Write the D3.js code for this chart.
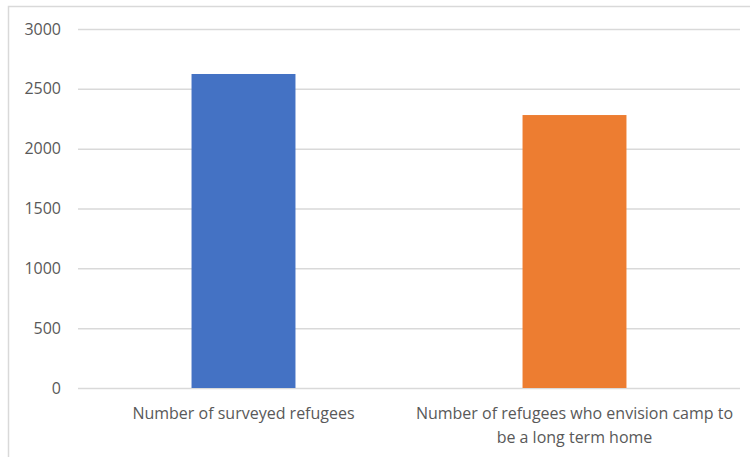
<!DOCTYPE html>
<html>
<head>
<meta charset="utf-8">
<script src="https://cdn.jsdelivr.net/npm/d3@7"></script>
<style>
  html, body { margin: 0; padding: 0; background: #fff; }
  svg { display: block; }
  text { font-family: "Open Sans", "Noto Sans", sans-serif; fill: #595959; }
</style>
</head>
<body>
<div id="chart"></div>
<script>
// Survey counts
const categories = [
  ["Number of surveyed refugees"],
  ["Number of refugees who envision camp to", "be a long term home"]
];
const values = [2624, 2281];
const barColors = ["#4472C4", "#ED7D31"];
const yTicks = [0, 500, 1000, 1500, 2000, 2500, 3000];

const W = 750, H = 457;
const margin = { left: 78, right: 10, top: 29, bottom: 69 };

const svg = d3.select("#chart").append("svg")
  .attr("width", W).attr("height", H);

// chart frame
svg.append("path")
  .attr("d", `M8.5,${H + 2} V6.5 H${W + 2}`)
  .attr("fill", "none")
  .attr("stroke", "#d9d9d9")
  .attr("stroke-width", 1.5);

const x = d3.scaleBand()
  .domain(d3.range(categories.length))
  .range([margin.left, W - margin.right])
  .padding(0);

const y = d3.scaleLinear()
  .domain([0, 3000])
  .range([H - margin.bottom, margin.top]);

// gridlines and tick labels
const yAxis = d3.axisLeft(y)
  .tickValues(yTicks)
  .tickSize(-(W - margin.right - margin.left))
  .tickPadding(17)
  .tickFormat(d3.format("d"));

const gy = svg.append("g")
  .attr("transform", `translate(${margin.left},0)`)
  .call(yAxis);
gy.select(".domain").remove();
gy.selectAll(".tick line")
  .attr("stroke", "#d9d9d9")
  .attr("stroke-width", 1.5);
gy.selectAll(".tick text")
  .attr("font-size", 16)
  .attr("fill", "#595959");

// bars
const barFrac = 0.314;
svg.append("g").selectAll("rect")
  .data(values)
  .join("rect")
  .attr("x", (d, i) => x(i) + x.bandwidth() * (1 - barFrac) / 2)
  .attr("width", x.bandwidth() * barFrac)
  .attr("y", d => y(d))
  .attr("height", d => y(0) - y(d))
  .attr("fill", (d, i) => barColors[i]);

// category labels
const labels = svg.append("g").selectAll("text")
  .data(categories)
  .join("text")
  .attr("text-anchor", "middle")
  .attr("font-size", 16)
  .attr("x", (d, i) => x(i) + x.bandwidth() / 2)
  .attr("y", y(0) + 31);
labels.selectAll("tspan")
  .data(d => d)
  .join("tspan")
  .attr("x", function () { return this.parentNode.getAttribute("x"); })
  .attr("dy", (d, i) => i === 0 ? 0 : 24)
  .text(d => d);
</script>
</body>
</html>
